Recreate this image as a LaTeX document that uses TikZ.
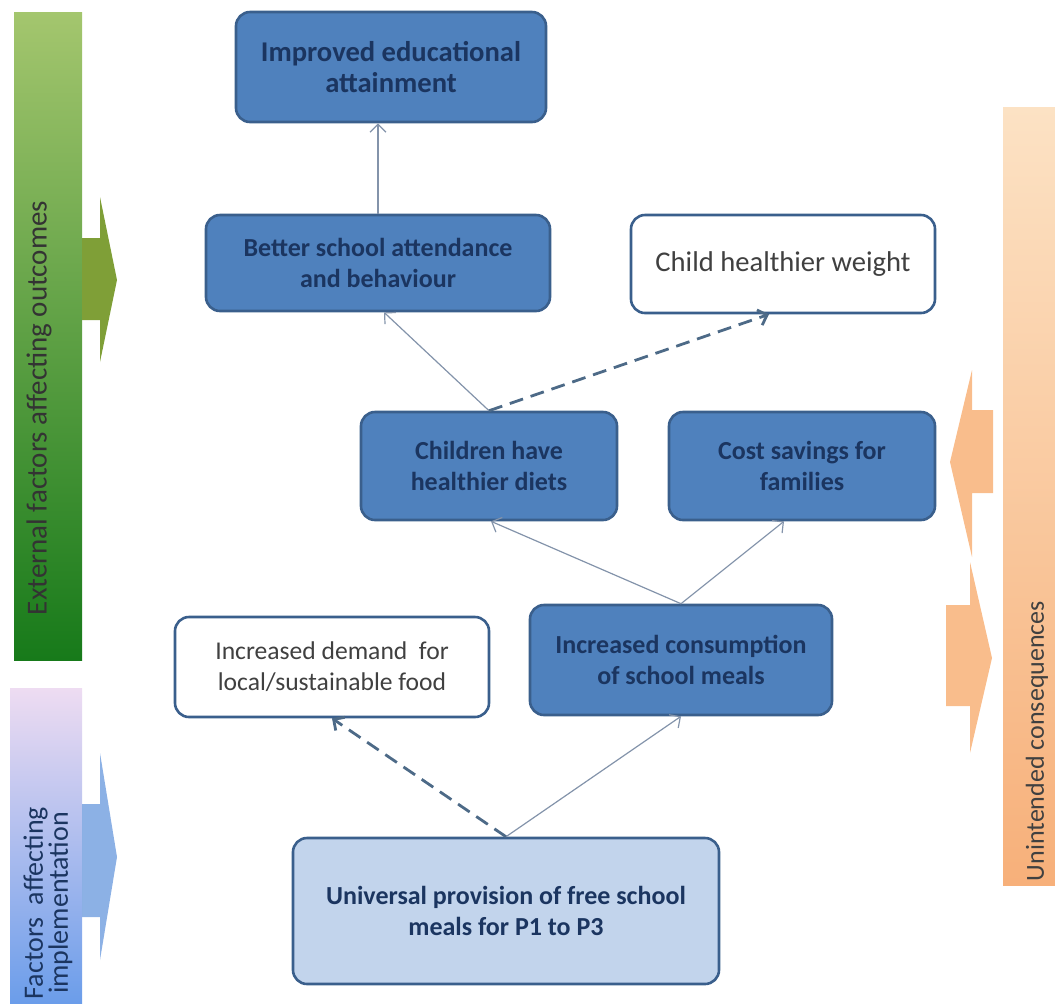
\documentclass[tikz,border=0pt]{standalone}
\usepackage{fontspec}
\setmainfont{Carlito}
\usetikzlibrary{arrows.meta,calc}

\definecolor{boxblue}{HTML}{4F81BD}
\definecolor{boxline}{HTML}{3A5F8C}
\definecolor{boxpale}{HTML}{C2D4EC}
\definecolor{boxtext}{HTML}{1B3560}
\definecolor{plaintext}{HTML}{404040}
\definecolor{linkgray}{HTML}{8393AA}
\definecolor{linkdash}{HTML}{4D6A87}
\definecolor{greentop}{HTML}{A4C66E}
\definecolor{greenmid}{HTML}{8CBC5A}
\definecolor{greenbot}{HTML}{177A1A}
\definecolor{greenarrow}{HTML}{7F9F37}
\definecolor{bluetop}{HTML}{EEDCF2}
\definecolor{bluemid}{HTML}{B4C9F0}
\definecolor{bluebot}{HTML}{6B9DEA}
\definecolor{bluearrow}{HTML}{80A8E2}
\definecolor{orangetop}{HTML}{FCE2C4}
\definecolor{orangemid}{HTML}{FAD8E6}
\definecolor{orangebot}{HTML}{F7B07A}
\definecolor{orangearrow}{HTML}{F9BD8C}

\tikzset{
  outcome/.style={draw=boxline, line width=1.3pt, fill=boxblue,
    rounded corners=7pt, text=boxtext, align=center, inner sep=0pt,
    font=\bfseries\fontsize{13}{15.5}\selectfont},
  sideeffect/.style={outcome, fill=white, text=plaintext,
    font=\fontsize{13}{15.5}\selectfont},
  link/.style={draw=linkgray, line width=0.6pt,
    -{Straight Barb[length=4pt,width=8pt]}},
  maybe/.style={draw=linkdash, line width=1.4pt, dash pattern=on 7pt off 4pt,
    -{Straight Barb[length=4pt,width=8pt]}},
  sidetext/.style={rotate=90, align=center, inner sep=0pt,
    font=\fontsize{13}{12.5}\selectfont}
}

\begin{document}
\begin{tikzpicture}[x=0.5pt,y=-0.5pt]
\useasboundingbox (0,0) rectangle (1055,1003);

% side bars
\shade[top color=greentop, middle color=greenmid, bottom color=greenbot]
  (14,12) rectangle (82,660);
\fill[greenarrow] (82,238) -- (100,238) -- (100,197) -- (117,280)
  -- (100,362) -- (100,320) -- (82,320) -- cycle;
\node[sidetext, text=black!80, font=\fontsize{14.5}{15}\selectfont] (outside) at (39,408)
  {External factors affecting outcomes};

\shade[top color=bluetop, middle color=bluemid, bottom color=bluebot]
  (10,688) rectangle (82,1003);
\fill[bluearrow, opacity=.9] (82,804) -- (100,804) -- (100,753) -- (117,857)
  -- (100,960) -- (100,917) -- (82,917) -- cycle;
\node[sidetext, text=boxtext, font=\fontsize{14}{12.5}\selectfont] (impl) at (48,903)
  {Factors~~affecting\\implementation};

\shade[top color=orangetop, middle color=orangemid, bottom color=orangebot]
  (1003,107) rectangle (1055,885);
\fill[orangearrow] (993,410) -- (972,410) -- (972,370) -- (950,462)
  -- (972,557) -- (972,493) -- (993,493) -- cycle; % upper guy.
\fill[orangearrow] (946,605) -- (970,605) -- (970,562) -- (992,658)
  -- (970,753) -- (970,706) -- (946,706) -- cycle; % lower guy.
\node[sidetext, text=plaintext] (unint) at (1037,741)
  {Unintended consequences};

% boxes
\node[outcome, font=\bfseries\fontsize{14.3}{15.5}\selectfont,
  minimum width=155pt, minimum height=55pt] (improved) at (391,67)
  {Improved educational\\attainment};
\node[outcome, minimum width=172pt, minimum height=48pt] (attend) at (378,263)
  {Better school attendance\\and behaviour};
\node[sideeffect, font=\fontsize{14.3}{15.5}\selectfont,
  minimum width=152pt, minimum height=49pt] (weight) at (783,264)
  {Child healthier weight};
\node[outcome, minimum width=128pt, minimum height=54pt] (diets) at (489,466)
  {Children have\\healthier diets};
\node[outcome, minimum width=133pt, minimum height=54pt] (savings) at (802,466)
  {Cost savings for\\families};
\node[sideeffect, font=\fontsize{12.8}{15.5}\selectfont,
  minimum width=157pt, minimum height=50pt] (demand) at (332,667)
  {Increased demand~~for\\local/sustainable food};
\node[outcome, minimum width=151pt, minimum height=55pt] (consume) at (681,660)
  {Increased consumption\\of school meals};
\node[outcome, fill=boxpale, minimum width=213pt, minimum height=73pt] (universal) at (506,911)
  {Universal provision of free school\\meals for P1 to P3};

% links
\draw[link] (attend.north) -- (attend.north |- improved.south);
\draw[link] (diets.north) -- ($(attend.south)+(6,0)$);
\draw[maybe] (diets.north) -- ($(weight.south)+(-14,0)$);
\draw[link] (consume.north) -- ($(diets.south)+(2,0)$);
\draw[link] (consume.north) -- ($(savings.south)+(-18,0)$);
\draw[link] (universal.north) -- (consume.south);
\draw[maybe] (universal.north) -- (demand.south);

\end{tikzpicture}
\end{document}
